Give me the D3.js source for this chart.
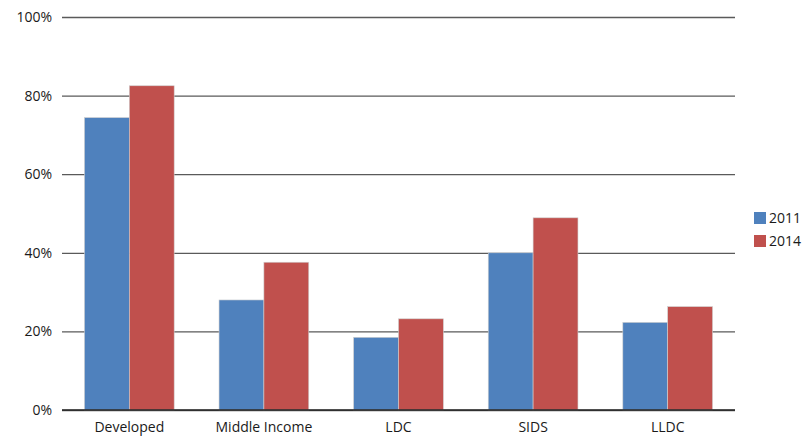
<!DOCTYPE html>
<html>
<head>
<meta charset="utf-8">
<script src="https://cdn.jsdelivr.net/npm/d3@7"></script>
<style>
  body { margin: 0; background: #fff; }
  text { font-family: "Open Sans", "Noto Sans", sans-serif; fill: #1a1a1a; }
</style>
</head>
<body>
<div id="chart"></div>
<script>
// data
var categories = ["Developed", "Middle Income", "LDC", "SIDS", "LLDC"];
var seriesNames = ["2011", "2014"];
var values2011 = [74.4, 28.0, 18.5, 40.0, 22.3];
var values2014 = [82.5, 37.6, 23.2, 48.9, 26.3];
var yTicks = [0, 20, 40, 60, 80, 100];
var colors = ["#4F81BD", "#C0504D"];

var svgWidth = 809;
var svgHeight = 439;

var margin = { top: 17, right: 74, bottom: 29, left: 62 };
var width = svgWidth - margin.left - margin.right;
var height = svgHeight - margin.top - margin.bottom;

var svg = d3.select("#chart")
  .append("svg")
  .attr("width", svgWidth)
  .attr("height", svgHeight);

var chartGroup = svg.append("g")
  .attr("transform", `translate(${margin.left}, ${margin.top})`);

// scales
var x0 = d3.scaleBand()
  .domain(categories)
  .range([0, width])
  .paddingInner(1 / 3)
  .paddingOuter(1 / 6);

var x1 = d3.scaleBand()
  .domain(seriesNames)
  .range([0, x0.bandwidth()]);

var y = d3.scaleLinear()
  .domain([0, 100])
  .range([height, 0]);

// gridlines + y labels
var leftAxis = d3.axisLeft(y)
  .tickValues(yTicks)
  .tickSize(-width)
  .tickPadding(10)
  .tickFormat(d => d + "%");

var yAxis = chartGroup.append("g").call(leftAxis);
yAxis.select(".domain").remove();
yAxis.selectAll(".tick line")
  .attr("stroke", "#5a5a5a")
  .attr("stroke-width", 1.3);
yAxis.selectAll(".tick text")
  .style("font-size", "14px")
  .attr("fill", "#1a1a1a");

// bars
var rows = categories.map((c, i) => ({ cat: c, vals: [values2011[i], values2014[i]] }));

var groups = chartGroup.selectAll(".cat")
  .data(rows)
  .enter()
  .append("g")
  .attr("class", "cat")
  .attr("transform", d => `translate(${x0(d.cat)}, 0)`);

groups.selectAll("rect")
  .data(d => d.vals.map((v, j) => ({ key: seriesNames[j], v: v, j: j })))
  .enter()
  .append("rect")
  .attr("x", d => x1(d.key))
  .attr("y", d => y(d.v))
  .attr("width", x1.bandwidth())
  .attr("height", d => height - y(d.v))
  .attr("fill", d => colors[d.j])
  .attr("stroke", "#d0d0d0")
  .attr("stroke-width", 0.6);

// baseline
chartGroup.append("line")
  .attr("x1", 0)
  .attr("x2", width)
  .attr("y1", y(0))
  .attr("y2", y(0))
  .attr("stroke", "#222")
  .attr("stroke-width", 1.3);

// x labels, kept just inside the bottom edge
var bottomAxis = d3.axisBottom(x0).tickSize(0).tickPadding(12);
var xAxis = chartGroup.append("g")
  .attr("transform", `translate(0, ${height})`)
  .call(bottomAxis);
xAxis.select(".domain").remove();
xAxis.selectAll(".tick text")
  .style("font-size", "14px")
  .attr("fill", "#1a1a1a");

// legend
var legend = svg.append("g")
  .attr("transform", "translate(754, 212)");

seriesNames.forEach(function(name, i) {
  var row = legend.append("g").attr("transform", `translate(0, ${i * 23})`);
  row.append("rect")
    .attr("width", 12)
    .attr("height", 12)
    .attr("fill", colors[i]);
  row.append("text")
    .attr("x", 15)
    .attr("y", 6)
    .attr("dy", "0.35em")
    .style("font-size", "14px")
    .text(name);
});
</script>
</body>
</html>
